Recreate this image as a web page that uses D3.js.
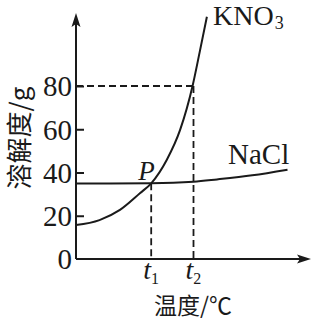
<!DOCTYPE html>
<html>
<head>
<meta charset="utf-8">
<script src="https://cdn.jsdelivr.net/npm/d3@7"></script>
<style>
  html, body { margin: 0; padding: 0; background: #fff; }
  svg { display: block; }
</style>
</head>
<body>
<svg class="sol-chart"></svg>
<script>
// solubility curves, temperature units are arbitrary (t1, t2 not numbered)
const yTicks = [0, 20, 40, 60, 80];

const kno3Temp = [0, 10, 18.7, 27.2, 32, 38.6, 44.3, 49.6, 52.8, 55.7];
const kno3Sol  = [15.7, 18, 22.7, 30.4, 35, 45.8, 59.7, 80, 96.6, 112];

const naclTemp = [0, 32, 50, 60, 75, 90];
const naclSol  = [34.9, 35, 35.7, 36.8, 38.7, 41.3];

const tMarks = [32, 50];
const tNames = ['1', '2'];
const guideLevel = 80;
const pointP = [32, 35];

const chartWidth = 313,
      chartHeight = 321;

const x0 = 76, y0 = 259;

const xScale = d3.scaleLinear()
                 .domain([0, 100])
                 .range([x0, x0 + 235]);

const yScale = d3.scaleLinear()
                 .domain([0, 80])
                 .range([y0, 86]);

const chart = d3.select('.sol-chart')
                .attr('width', chartWidth)
                .attr('height', chartHeight);

const ink = '#1a1a1a';
const serif = '"Liberation Serif", "DejaVu Serif", serif';
const cjk = '"Noto Sans CJK SC", sans-serif';

// dashed guides
const guides = [
  [0, guideLevel, tMarks[1], guideLevel],
  [tMarks[1], guideLevel, tMarks[1], 0],
  [tMarks[0], pointP[1], tMarks[0], 0]
];

chart.selectAll('line.guide')
     .data(guides)
     .enter()
     .append('line')
     .attr('class', 'guide')
     .attr('x1', d => xScale(d[0]))
     .attr('y1', d => yScale(d[1]))
     .attr('x2', d => xScale(d[2]))
     .attr('y2', d => yScale(d[3]))
     .attr('stroke', ink)
     .attr('stroke-width', 1.8)
     .attr('stroke-dasharray', '7,4');

// curves
const line = d3.line()
               .x(d => xScale(d[0]))
               .y(d => yScale(d[1]))
               .curve(d3.curveMonotoneX);

const curves = [
  d3.zip(kno3Temp, kno3Sol),
  d3.zip(naclTemp, naclSol)
];

chart.selectAll('path.curve')
     .data(curves)
     .enter()
     .append('path')
     .attr('class', 'curve')
     .attr('d', line)
     .attr('fill', 'none')
     .attr('stroke', ink)
     .attr('stroke-width', 2);

// y axis with inward ticks
const yAxis = d3.axisLeft(yScale)
                .tickValues(yTicks)
                .tickSizeInner(-8)
                .tickSizeOuter(0)
                .tickPadding(4)
                .tickFormat(d => d);

const gy = chart.append('g')
                .attr('transform', 'translate(' + x0 + ',0)')
                .call(yAxis);

gy.select('.domain').remove();
gy.selectAll('.tick line')
  .attr('stroke', ink)
  .attr('stroke-width', 2)
  .filter(d => d === 0).remove();
gy.selectAll('.tick text')
  .attr('font-family', serif)
  .attr('font-size', 29)
  .attr('fill', ink)
  .attr('dy', '0.34em');

// axis lines + arrows
chart.append('line')
     .attr('x1', x0).attr('y1', y0)
     .attr('x2', x0).attr('y2', 20)
     .attr('stroke', ink).attr('stroke-width', 2);

chart.append('line')
     .attr('x1', x0).attr('y1', y0)
     .attr('x2', 304).attr('y2', y0)
     .attr('stroke', ink).attr('stroke-width', 2);

chart.append('path')
     .attr('d', 'M' + x0 + ',13 L' + (x0 - 4.5) + ',27 L' + x0 + ',24 L' + (x0 + 4.5) + ',27 Z')
     .attr('fill', ink);

chart.append('path')
     .attr('d', 'M311,' + y0 + ' L297,' + (y0 - 4.5) + ' L300,' + y0 + ' L297,' + (y0 + 4.5) + ' Z')
     .attr('fill', ink);

// t1, t2 labels
const tLabel = chart.selectAll('text.tlabel')
                    .data(tMarks)
                    .enter()
                    .append('text')
                    .attr('class', 'tlabel')
                    .attr('x', d => xScale(d) - 8)
                    .attr('y', 279)
                    .attr('font-family', serif)
                    .attr('fill', ink);

tLabel.append('tspan')
      .attr('font-style', 'italic')
      .attr('font-size', 28)
      .text('t');

tLabel.append('tspan')
      .attr('font-size', 16)
      .attr('dy', 5)
      .text((d, i) => tNames[i]);

// curve names
const kno3 = chart.append('text')
                  .attr('x', 213)
                  .attr('y', 25)
                  .attr('font-family', serif)
                  .attr('font-size', 28)
                  .attr('fill', ink);
kno3.append('tspan').text('KNO');
kno3.append('tspan').attr('font-size', 18).attr('dy', 4).attr('dx', 1).text('3');

chart.append('text')
     .attr('x', 228)
     .attr('y', 164)
     .attr('font-family', serif)
     .attr('font-size', 29)
     .attr('fill', ink)
     .text('NaCl');

chart.append('text')
     .attr('x', xScale(pointP[0]) - 13)
     .attr('y', yScale(pointP[1]) - 3)
     .attr('font-family', serif)
     .attr('font-style', 'italic')
     .attr('font-size', 27)
     .attr('fill', ink)
     .text('P');

// axis titles
chart.append('text')
     .attr('transform', 'translate(29,138) rotate(-90)')
     .attr('text-anchor', 'middle')
     .attr('font-family', cjk)
     .attr('font-size', 26)
     .attr('fill', ink)
     .text('溶解度/g');

chart.append('text')
     .attr('x', 193)
     .attr('y', 314)
     .attr('text-anchor', 'middle')
     .attr('font-family', cjk)
     .attr('font-size', 23)
     .attr('fill', ink)
     .text('温度/℃');
</script>
</body>
</html>
